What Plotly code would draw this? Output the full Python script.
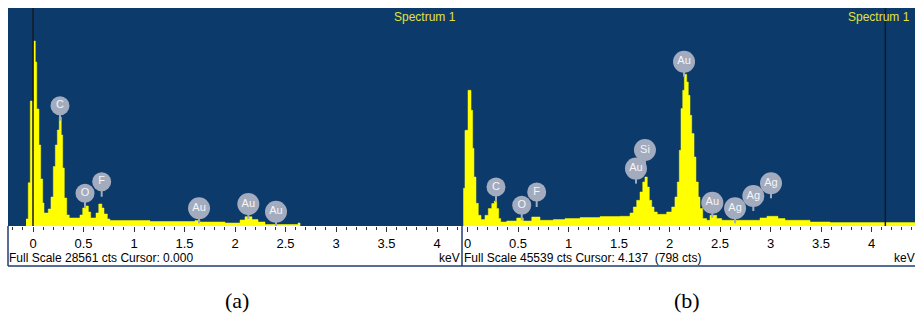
import plotly.graph_objects as go

# ---- Spectrum 1, acquisition (a): channel start energy (keV) and counts per step
energy_a = [-0.069, -0.047, -0.027, 0.007, 0.023, 0.037, 0.059, 0.076, 0.096, 0.109,
            0.151, 0.178, 0.201, 0.221, 0.241, 0.260, 0.280, 0.294, 0.310, 0.334,
            0.359, 0.465, 0.492, 0.515, 0.548, 0.571, 0.624, 0.651, 0.682, 0.703,
            0.736, 0.762, 1.158, 1.604, 1.653, 1.901, 2.050, 2.099, 2.168, 2.228,
            2.297, 2.624, 2.644]
counts_a = [917, 5672, 16375, 24235, 21484, 15327, 10611, 6157, 3013, 1703,
            2227, 3799, 7800, 10611, 12576, 14279, 11921, 7600, 3668, 1441,
            1048, 1441, 2358, 2620, 1834, 1048, 1703, 2882, 2358, 1572,
            917, 720, 590, 720, 524, 393, 786, 1218, 852, 524,
            197, 393, 0]
full_scale_a = 28561
cursor_a = 0.000

# ---- Spectrum 1, acquisition (b)
energy_b = [-0.042, -0.025, 0.005, 0.035, 0.051, 0.064, 0.084, 0.107, 0.134, 0.173,
            0.206, 0.240, 0.265, 0.289, 0.309, 0.329, 0.388, 0.487, 0.552, 0.636,
            0.718, 0.850, 0.965, 1.114, 1.312, 1.510, 1.609, 1.642, 1.675, 1.708,
            1.735, 1.757, 1.780, 1.800, 1.824, 1.847, 1.879, 1.972, 2.022, 2.054,
            2.077, 2.097, 2.114, 2.131, 2.147, 2.170, 2.186, 2.203, 2.220, 2.243,
            2.262, 2.285, 2.302, 2.329, 2.368, 2.401, 2.467, 2.517, 2.896, 2.965,
            3.074, 3.144, 3.391, 3.589, 4.440]
counts_b = [7876, 19992, 28348, 24170, 16232, 10236, 4742, 2235, 1337, 2235,
            3635, 4679, 5223, 3635, 1546, 836, 1045, 1671, 1045, 1880,
            1191, 1337, 1546, 1755, 1964, 2026, 2716, 3969, 5369, 7103,
            9192, 10236, 8147, 5369, 3969, 2925, 2444, 2925, 3969, 6058,
            9192, 15814, 24525, 28348, 31690, 30082, 27303, 23125, 19302, 14414,
            9192, 6058, 3635, 1546, 1191, 2235, 1546, 1191, 1671, 2026,
            1546, 1191, 836, 710, 0]
full_scale_b = 45539
cursor_b = 4.137
cursor_counts_b = 798

# ---- element identification badges: (symbol, line energy keV, badge height in counts)
labels_a = [("C", 0.267, 15759), ("O", 0.515, 4284), ("F", 0.680, 5803),
            ("Au", 1.644, 2319), ("Au", 2.132, 2882), ("Au", 2.406, 1873)]
labels_b = [("C", 0.282, 8147), ("O", 0.537, 4324), ("F", 0.685, 7103),
            ("Si", 1.757, 15876), ("Au", 1.668, 11991), ("Au", 2.144, 34322),
            ("Au", 2.424, 4867), ("Ag", 2.649, 3698), ("Ag", 2.830, 6267),
            ("Ag", 3.005, 8920)]

W, H = 915, 320
BLUE = "#0B3A6B"
YELLOW = "#FFFF00"
BADGE = "#A3ACBE"
FRAME = "#1F3D72"
TEXT_FONT = "Liberation Sans, Arial, sans-serif"

PLOT_TOP, PLOT_BOTTOM = 8, 226          # plot area rows (px)
PLOT_H = PLOT_BOTTOM - PLOT_TOP
KEV_PX = 101.0                           # horizontal scale, px per keV


def px(v):
    return v / W


def py(v):
    return 1 - v / H


fig = go.Figure()


def add_panel(energy, counts, labels, full_scale, xa, ya):
    fig.add_trace(go.Scatter(
        x=energy, y=counts, mode="lines", xaxis=xa, yaxis=ya,
        line=dict(shape="hv", width=0.5, color=YELLOW),
        fill="tozeroy", fillcolor=YELLOW, hoverinfo="skip"))
    per_px = full_scale / PLOT_H
    stem = 15 * per_px
    sx, sy = [], []
    for _, e, h in labels:
        sx += [e, e, None]
        sy += [h, h - stem, None]
    fig.add_trace(go.Scatter(
        x=sx, y=sy, mode="lines", xaxis=xa, yaxis=ya,
        line=dict(color=BADGE, width=2), hoverinfo="skip"))
    for sym, e, h in labels:
        fig.add_trace(go.Scatter(
            x=[e], y=[h], mode="markers+text", xaxis=xa, yaxis=ya,
            text=[sym], textposition="middle center",
            textfont=dict(family=TEXT_FONT, size=11, color="#F4F6FA"),
            marker=dict(symbol="circle", size=19 if len(sym) == 1 else 22,
                        color=BADGE, line=dict(width=0)),
            hoverinfo="skip"))


add_panel(energy_a, counts_a, labels_a, full_scale_a, "x", "y")
add_panel(energy_b, counts_b, labels_b, full_scale_b, "x2", "y2")

# horizontal layout: zero keV sits at these pixel columns
zero_a, zero_b = 33.0, 467.5
left_a, right_a = 8, 462
left_b, right_b = 462, W

tick_style = dict(
    ticks="outside", ticklen=5, tickwidth=1, tickcolor="#303030",
    dtick=0.5, tick0=0, showgrid=False, zeroline=False, showline=False,
    tickfont=dict(family=TEXT_FONT, size=13, color="#000000"),
    minor=dict(dtick=0.1, tick0=0, ticks="outside", ticklen=3,
               tickwidth=1, tickcolor="#303030", showgrid=False),
    fixedrange=True)

ydom = [py(PLOT_BOTTOM), py(PLOT_TOP)]
fig.update_layout(
    width=W, height=H, margin=dict(l=0, r=0, t=0, b=0),
    paper_bgcolor="white", plot_bgcolor=BLUE, showlegend=False,
    xaxis=dict(domain=[px(left_a), px(right_a)], anchor="y",
               range=[(left_a - zero_a) / KEV_PX, (right_a - zero_a) / KEV_PX],
               **tick_style),
    yaxis=dict(domain=ydom, range=[0, full_scale_a], visible=False, fixedrange=True),
    xaxis2=dict(domain=[px(left_b), px(right_b)], anchor="y2",
                range=[(left_b - zero_b) / KEV_PX, (right_b - zero_b) / KEV_PX],
                **tick_style),
    yaxis2=dict(domain=ydom, range=[0, full_scale_b], visible=False, fixedrange=True),
)

# cursor markers
for xref, yref, c in [("x", "y domain", cursor_a), ("x2", "y2 domain", cursor_b)]:
    fig.add_shape(type="line", xref=xref, yref=yref, x0=c, x1=c, y0=0, y1=1,
                  line=dict(color="#141A24", width=1.5))

# frame of the status bar under the spectra
for x0, y0, x1, y1 in [(left_a, 266, W, 266), (left_a, PLOT_BOTTOM, left_a, 266),
                       (right_a, PLOT_BOTTOM, right_a, 266)]:
    fig.add_shape(type="line", xref="paper", yref="paper",
                  x0=px(x0), y0=py(y0), x1=px(x1), y1=py(y1),
                  line=dict(color=FRAME, width=1.5))

status_a = f"Full Scale {full_scale_a} cts Cursor: {cursor_a:.3f}"
status_b = (f"Full Scale {full_scale_b} cts Cursor: {cursor_b:.3f}"
            f"\u00a0\u00a0({cursor_counts_b} cts)")

annotations = [
    dict(text="Spectrum 1", x=px(458), y=py(17), xanchor="right", yanchor="middle",
         font=dict(family=TEXT_FONT, size=12, color="#E2E23A")),
    dict(text="Spectrum 1", x=px(912), y=py(17), xanchor="right", yanchor="middle",
         font=dict(family=TEXT_FONT, size=12, color="#E2E23A")),
    dict(text=status_a, x=px(7), y=py(258), xanchor="left", yanchor="middle",
         font=dict(family=TEXT_FONT, size=12, color="#000000")),
    dict(text=status_b, x=px(462), y=py(258), xanchor="left", yanchor="middle",
         font=dict(family=TEXT_FONT, size=12, color="#000000")),
    dict(text="keV", x=px(462), y=py(258), xanchor="right", yanchor="middle",
         font=dict(family=TEXT_FONT, size=12, color="#000000")),
    dict(text="keV", x=px(917), y=py(258), xanchor="right", yanchor="middle",
         font=dict(family=TEXT_FONT, size=12, color="#000000")),
    dict(text="(a)", x=px(237), y=py(300), xanchor="center", yanchor="middle",
         font=dict(family="Liberation Serif, Times New Roman, serif", size=22,
                   color="#000000")),
    dict(text="(b)", x=px(687), y=py(300), xanchor="center", yanchor="middle",
         font=dict(family="Liberation Serif, Times New Roman, serif", size=22,
                   color="#000000")),
]
for a in annotations:
    a.update(xref="paper", yref="paper", showarrow=False)
fig.update_layout(annotations=annotations)

fig.write_html("out.html")
